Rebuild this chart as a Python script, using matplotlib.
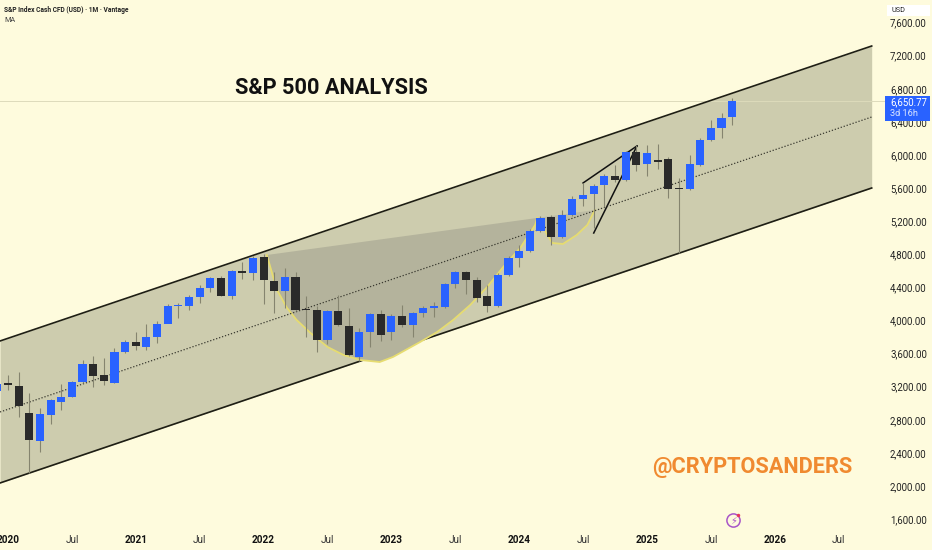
import matplotlib
matplotlib.use("Agg")
import matplotlib.pyplot as plt

W, H = 932, 550
BG = "#FEFBDD"
CHANNEL = "#CDCCAE"
BLUE = "#2962FF"
BLACK = "#2A2A2A"
WICK = "#85846F"

# Monthly candles, Dec 2019 (month -1) to Sep 2025
months = list(range(-1, 69))
opens = [3150, 3244, 3212, 2886, 2544, 2858, 3015, 3080, 3261, 3478, 3337, 3249, 3619, 3736, 3676, 3800, 3962, 4175,
         4179, 4283, 4393, 4513, 4296, 4602, 4578, 4771, 4481, 4352, 4530, 4133, 4127, 3764, 4115, 3938, 3559, 3861,
         4074, 3861, 4054, 3946, 4090, 4155, 4163, 4437, 4582, 4493, 4300, 4171, 4554, 4759, 4836, 5082, 5255, 5013,
         5279, 5464, 5525, 5634, 5746, 5702, 6032, 5891, 5940, 5948, 5589, 5585, 5879, 6185, 6326, 6459]
closes = [3230, 3220, 2971, 2552, 2874, 3039, 3080, 3257, 3478, 3333, 3269, 3619, 3736, 3688, 3797, 3962, 4175, 4187,
          4288, 4388, 4513, 4296, 4594, 4578, 4759, 4489, 4360, 4530, 4127, 4125, 3764, 4119, 3946, 3579, 3861, 4078,
          3829, 4058, 3946, 4095, 4155, 4171, 4437, 4582, 4493, 4276, 4171, 4554, 4759, 4836, 5077, 5239, 5013, 5271,
          5464, 5521, 5630, 5746, 5698, 6032, 5879, 6028, 5920, 5589, 5585, 5895, 6185, 6326, 6451, 6650.77]
highs = [3260, 3335, 3374, 3120, 2938, 3045, 3229, 3270, 3522, 3571, 3543, 3664, 3760, 3857, 3953, 3990, 4200, 4207,
         4305, 4429, 4530, 4538, 4610, 4711, 4780, 4803, 4590, 4630, 4590, 4296, 4175, 4125, 4308, 4147, 3905, 4090,
         4127, 4075, 4187, 4100, 4170, 4220, 4450, 4600, 4600, 4530, 4429, 4570, 4780, 4912, 5100, 5263, 5275, 5335,
         5505, 5658, 5645, 5765, 5879, 6050, 6121, 6121, 6133, 5980, 5718, 6000, 6200, 6423, 6504, 6685]
lows = [3100, 3160, 2838, 2161, 2415, 2745, 2918, 3070, 3250, 3200, 3220, 3240, 3603, 3643, 3643, 3724, 4150, 4026,
        4127, 4207, 4348, 4290, 4256, 4500, 4489, 4199, 4095, 4147, 4110, 3805, 3623, 3716, 3930, 3570, 3515, 3684,
        3752, 3764, 3925, 3805, 4038, 4046, 4155, 4389, 4320, 4227, 4099, 4160, 4540, 4642, 4825, 5075, 4912, 4995,
        5265, 5384, 5114, 5376, 5678, 5690, 5807, 5746, 5827, 5484, 4812, 5575, 5870, 6170, 6201, 6362]

# Channel lines as (month, price)
channel_x = [-0.75, 81.1]
upper_y = [3752, 7317]
middle_y = [2894, 6459]
lower_y = [2036, 5601]

# Cup drawing
cup_x = [24.3, 25.26, 26.2, 27.1, 28.4, 30.0, 31.5, 33.05, 34.9, 36.15, 38.7, 40.3, 41.8, 43.4, 45.0, 46.5, 48.1, 49.5, 49.7]
cup_y = [4791, 4369, 4151, 4006, 3849, 3680, 3583, 3523, 3498, 3559, 3740, 3861, 4006, 4187, 4405, 4646, 4876, 5154, 5239]
handle_x = [49.7, 51.1, 52.1, 53.4, 54.4, 55.1]
handle_y = [5239, 4937, 4924, 5033, 5154, 5335]

# Wedge drawing
wedge_top_x = [54.0, 59.06]
wedge_top_y = [5662, 6109]
wedge_low_x = [55.0, 59.06]
wedge_low_y = [5057, 6109]

y_ticks = list(range(1600, 7601, 400))
x_ticks = [0, 6, 12, 18, 24, 30, 36, 42, 48, 54, 60, 66, 72, 78]
x_labels = ["2020", "Jul", "2021", "Jul", "2022", "Jul", "2023", "Jul", "2024", "Jul", "2025", "Jul", "2026", "Jul"]
last_price = 6650.77

plt.rcParams["font.family"] = ["Roboto", "DejaVu Sans"]
fig = plt.figure(figsize=(W / 100, H / 100), dpi=100, facecolor=BG)
ax = fig.add_axes([0, 22 / H, 885 / W, 528 / H], facecolor=BG)
ax.set_xlim(-0.751, 82.35)
ax.set_ylim(1492, 7873)
for s in ax.spines.values():
    s.set_visible(False)

# channel
ax.fill_between(channel_x, lower_y, upper_y, color=CHANNEL, lw=0, zorder=1)
ax.plot(channel_x, upper_y, color="#1E1E14", lw=1.2, zorder=2)
ax.plot(channel_x, lower_y, color="#1E1E14", lw=1.2, zorder=2)
ax.plot(channel_x, middle_y, color="#3A3A30", lw=0.9, ls=(0, (1, 1.5)), zorder=4)

# price line
ax.axhline(last_price, color="#DDDBBB", lw=0.7, zorder=1.5)

# cup and handle
ax.fill(cup_x, cup_y, color="#B4B39C", lw=0, zorder=2.2)
ax.plot(cup_x, cup_y, color="#E6DC70", lw=1.3, zorder=2.4)
ax.fill(handle_x, handle_y, color="#BDBCA4", lw=0, zorder=2.2)
ax.plot(handle_x, handle_y, color="#E6DC70", lw=1.3, zorder=2.4)

# wedge
ax.plot(wedge_top_x, wedge_top_y, color="#111111", lw=1.1, zorder=3)
ax.plot(wedge_low_x, wedge_low_y, color="#111111", lw=1.1, zorder=3)

# candles
for m, o, c, h, l in zip(months, opens, closes, highs, lows):
    col = BLUE if c >= o else BLACK
    ax.vlines(m, l, h, color=WICK, lw=0.8, zorder=5)
    bottom, height = min(o, c), max(abs(c - o), 14)
    ax.bar(m, height, bottom=bottom, width=0.76, color=col, lw=0, zorder=6)

# axes text
ax.yaxis.tick_right()
ax.set_yticks(y_ticks, [f"{v:,.2f}" for v in y_ticks])
ax.set_xticks(x_ticks, x_labels)
ax.tick_params(axis="y", length=0, pad=3.6, labelsize=6.9, labelcolor="#222222")
ax.tick_params(axis="x", length=0, pad=5, labelsize=7.2, labelcolor="#333333")
for lab, txt in zip(ax.get_xticklabels(), x_labels):
    if txt != "Jul":
        lab.set_fontweight("bold")
        lab.set_color("#111111")

# header and annotations
fig.text(4 / W, 1 - 10 / H, "S&P Index Cash CFD (USD) · 1M · Vantage", fontsize=4.8, fontweight="bold",
         color="#222222", va="center", ha="left")
fig.text(4 / W, 1 - 20 / H, "MA", fontsize=5.2, color="#444444", va="center", ha="left")
fig.text(331.5 / W, 1 - 88 / H, "S&P 500 ANALYSIS", fontsize=15.7, fontweight="bold", color="#111111",
         va="center", ha="center")
fig.text(752 / W, 1 - 467 / H, "@CRYPTOSANDERS", fontsize=15.7, fontweight="bold", color="#F08A30",
         va="center", ha="center")

# currency box
fig.patches.append(plt.Rectangle((887 / W, 1 - 16 / H), 43 / W, 11 / H, transform=fig.transFigure,
                                 facecolor="white", edgecolor="none", zorder=10))
fig.text(891 / W, 1 - 10 / H, "USD", fontsize=5.2, color="#222222", va="center", ha="left", zorder=11)

# last price tag
fig.patches.append(plt.Rectangle((885 / W, 1 - 121 / H), 45 / W, 25 / H, transform=fig.transFigure,
                                 facecolor=BLUE, edgecolor="none", zorder=10))
fig.text(890 / W, 1 - 102 / H, f"{last_price:,.2f}", fontsize=6.9, color="white", va="center", ha="left", zorder=11)
fig.text(890 / W, 1 - 113 / H, "3d 16h", fontsize=6.6, color="#DCE6FF", va="center", ha="left", zorder=11)

# news icon
ax.plot([68.1], [1589], marker="o", ms=9.5, mfc="none", mec="#A855C8", mew=1.1, zorder=7, clip_on=False)
ax.text(68.1, 1580, "\u26a1", fontsize=7, color="#A855C8", family="DejaVu Sans", ha="center", va="center", zorder=8)
ax.plot([68.55], [1650], marker="o", ms=2.5, color="#E8355A", mew=0, zorder=8)

fig.savefig("out.png", dpi=100, facecolor=BG)
